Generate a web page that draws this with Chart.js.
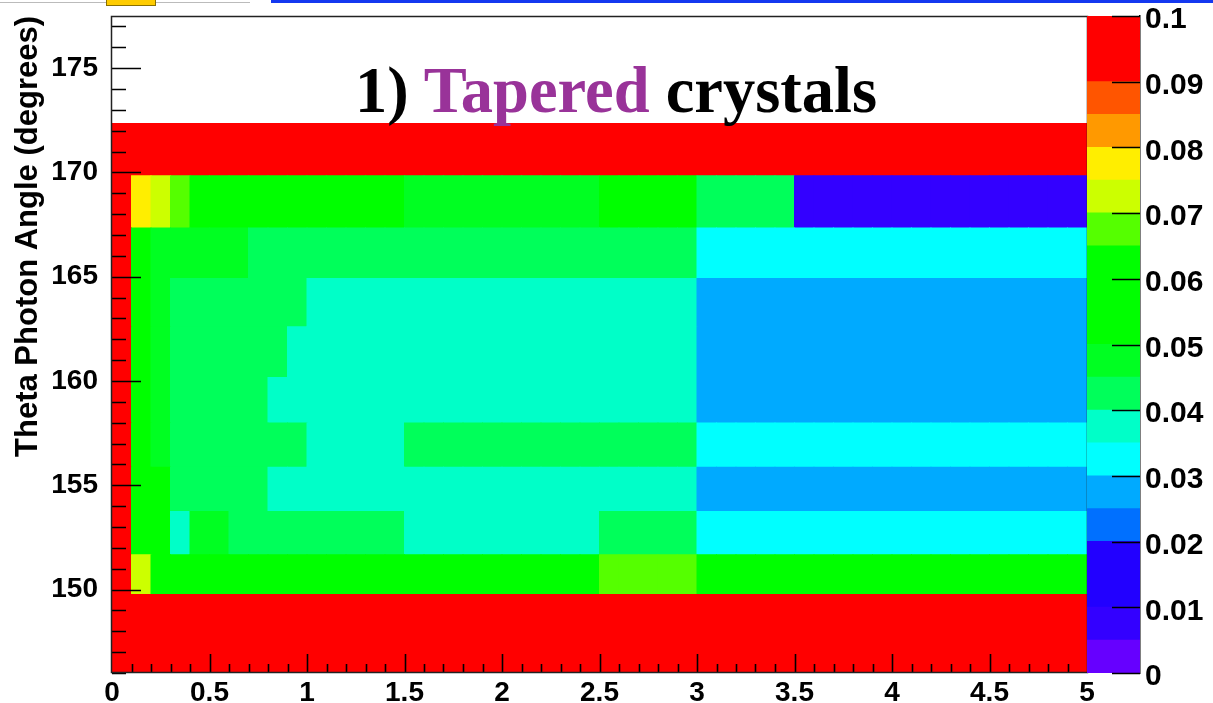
<!DOCTYPE html>
<html><head><meta charset="utf-8">
<script src="https://cdn.jsdelivr.net/npm/chart.js@4.4.0/dist/chart.umd.min.js"></script>
<style>
html,body{margin:0;padding:0;background:#fff;}
#wrap{position:relative;width:1213px;height:703px;overflow:hidden;background:#fff;}
#main{position:absolute;left:0;top:0;}
#cbar{position:absolute;left:1087px;top:0;}
#title{position:absolute;left:355px;top:59px;font-family:"Liberation Serif","Times New Roman",serif;font-weight:bold;font-size:64.5px;line-height:64px;white-space:nowrap;color:#000;}
#title .p{color:#993399;}
.blue{position:absolute;left:271px;top:0;width:942px;height:3px;background:#1438f0;}
.yel{position:absolute;left:106px;top:-2px;width:48px;height:6px;background:#ffcc00;border:1px solid #8a7000;}
.gray{position:absolute;left:0;top:2px;width:250px;height:1px;background:#bbb;}
</style></head>
<body><div id="wrap">
<canvas id="main" width="1213" height="703"></canvas>
<canvas id="cbar" width="126" height="703"></canvas>
<div class="gray"></div><div class="yel"></div><div class="blue"></div>
<div id="title">1) <span class="p">Tapered</span> crystals</div>
</div>
<script>
// ---- data ----
const xCenters = [0.05,0.15,0.25,0.35,0.45,0.55,0.65,0.75,0.85,0.95,
  1.05,1.15,1.25,1.35,1.45,1.55,1.65,1.75,1.85,1.95,
  2.05,2.15,2.25,2.35,2.45,2.55,2.65,2.75,2.85,2.95,
  3.05,3.15,3.25,3.35,3.45,3.55,3.65,3.75,3.85,3.95,
  4.05,4.15,4.25,4.35,4.45,4.55,4.65,4.75,4.85,4.95];
const yEdges = [146, 149.76, 151.67, 153.74, 155.86, 157.99, 160.17, 162.60, 164.91, 167.34, 169.84, 172.34];
const yTickLabels = [150, 155, 160, 165, 170, 175];
const xTickLabels = [0, 0.5, 1, 1.5, 2, 2.5, 3, 3.5, 4, 4.5, 5];
const zLevels = [0,0.005,0.01,0.015,0.02,0.025,0.03,0.035,0.04,0.045,0.05,0.055,0.06,0.065,0.07,0.075,0.08,0.085,0.09,0.095];
const zTickLabels = [0,0.01,0.02,0.03,0.04,0.05,0.06,0.07,0.08,0.09,0.1];
const palette = ['#6600ff','#3300ff','#2200ff','#2200ff','#0070ff','#00aaff','#00ffff','#00ffc8','#00ff5a','#00ff22',
  '#00ff00','#00ff00','#00ff00','#55ff00','#ccff00','#ffee00','#ff9900','#ff5500','#ff0000','#ff0000'];

const row00 = [0.1,0.1,0.1,0.1,0.1,0.1,0.1,0.1,0.1,0.1, 0.1,0.1,0.1,0.1,0.1,0.1,0.1,0.1,0.1,0.1,
  0.1,0.1,0.1,0.1,0.1,0.1,0.1,0.1,0.1,0.1, 0.1,0.1,0.1,0.1,0.1,0.1,0.1,0.1,0.1,0.1, 0.1,0.1,0.1,0.1,0.1,0.1,0.1,0.1,0.1,0.1];
const row01 = [0.1,0.072,0.057,0.057,0.057,0.057,0.057,0.057,0.057,0.057,
  0.057,0.057,0.057,0.057,0.057,0.057,0.057,0.057,0.057,0.057,
  0.057,0.057,0.057,0.057,0.057,0.067,0.067,0.067,0.067,0.067,
  0.057,0.057,0.057,0.057,0.057,0.057,0.057,0.057,0.057,0.057,
  0.057,0.057,0.057,0.057,0.057,0.057,0.057,0.057,0.057,0.057];
const row02 = [0.1,0.057,0.057,0.038,0.047,0.047,0.042,0.042,0.042,0.042,
  0.042,0.042,0.042,0.042,0.042,0.038,0.038,0.038,0.038,0.038,
  0.038,0.038,0.038,0.038,0.038,0.042,0.042,0.042,0.042,0.042,
  0.032,0.032,0.032,0.032,0.032,0.032,0.032,0.032,0.032,0.032,
  0.032,0.032,0.032,0.032,0.032,0.032,0.032,0.032,0.032,0.032];
const row03 = [0.1,0.057,0.057,0.042,0.042,0.042,0.042,0.042,0.038,0.038,
  0.038,0.038,0.038,0.038,0.038,0.038,0.038,0.038,0.038,0.038,
  0.038,0.038,0.038,0.038,0.038,0.038,0.038,0.038,0.038,0.038,
  0.027,0.027,0.027,0.027,0.027,0.027,0.027,0.027,0.027,0.027,
  0.027,0.027,0.027,0.027,0.027,0.027,0.027,0.027,0.027,0.027];
const row04 = [0.1,0.057,0.047,0.042,0.042,0.042,0.042,0.042,0.042,0.042,
  0.038,0.038,0.038,0.038,0.038,0.042,0.042,0.042,0.042,0.042,
  0.042,0.042,0.042,0.042,0.042,0.042,0.042,0.042,0.042,0.042,
  0.032,0.032,0.032,0.032,0.032,0.032,0.032,0.032,0.032,0.032,
  0.032,0.032,0.032,0.032,0.032,0.032,0.032,0.032,0.032,0.032];
const row05 = [0.1,0.057,0.047,0.042,0.042,0.042,0.042,0.042,0.038,0.038,
  0.038,0.038,0.038,0.038,0.038,0.038,0.038,0.038,0.038,0.038,
  0.038,0.038,0.038,0.038,0.038,0.038,0.038,0.038,0.038,0.038,
  0.027,0.027,0.027,0.027,0.027,0.027,0.027,0.027,0.027,0.027,
  0.027,0.027,0.027,0.027,0.027,0.027,0.027,0.027,0.027,0.027];
const row06 = [0.1,0.057,0.047,0.042,0.042,0.042,0.042,0.042,0.042,0.038,
  0.038,0.038,0.038,0.038,0.038,0.038,0.038,0.038,0.038,0.038,
  0.038,0.038,0.038,0.038,0.038,0.038,0.038,0.038,0.038,0.038,
  0.027,0.027,0.027,0.027,0.027,0.027,0.027,0.027,0.027,0.027,
  0.027,0.027,0.027,0.027,0.027,0.027,0.027,0.027,0.027,0.027];
const row07 = [0.1,0.057,0.047,0.042,0.042,0.042,0.042,0.042,0.042,0.042,
  0.038,0.038,0.038,0.038,0.038,0.038,0.038,0.038,0.038,0.038,
  0.038,0.038,0.038,0.038,0.038,0.038,0.038,0.038,0.038,0.038,
  0.027,0.027,0.027,0.027,0.027,0.027,0.027,0.027,0.027,0.027,
  0.027,0.027,0.027,0.027,0.027,0.027,0.027,0.027,0.027,0.027];
const row08 = [0.1,0.057,0.047,0.047,0.047,0.047,0.047,0.042,0.042,0.042,
  0.042,0.042,0.042,0.042,0.042,0.042,0.042,0.042,0.042,0.042,
  0.042,0.042,0.042,0.042,0.042,0.042,0.042,0.042,0.042,0.042,
  0.032,0.032,0.032,0.032,0.032,0.032,0.032,0.032,0.032,0.032,
  0.032,0.032,0.032,0.032,0.032,0.032,0.032,0.032,0.032,0.032];
const row09 = [0.1,0.077,0.072,0.067,0.057,0.057,0.057,0.057,0.057,0.057,
  0.057,0.057,0.057,0.057,0.057,0.047,0.047,0.047,0.047,0.047,
  0.047,0.047,0.047,0.047,0.047,0.057,0.057,0.057,0.057,0.057,
  0.042,0.042,0.042,0.042,0.042,0.008,0.008,0.008,0.008,0.008,
  0.008,0.008,0.008,0.008,0.008,0.008,0.008,0.008,0.008,0.008];
const row10 = [0.1,0.1,0.1,0.1,0.1,0.1,0.1,0.1,0.1,0.1, 0.1,0.1,0.1,0.1,0.1,0.1,0.1,0.1,0.1,0.1,
  0.1,0.1,0.1,0.1,0.1,0.1,0.1,0.1,0.1,0.1, 0.1,0.1,0.1,0.1,0.1,0.1,0.1,0.1,0.1,0.1, 0.1,0.1,0.1,0.1,0.1,0.1,0.1,0.1,0.1,0.1];
const rows = [row00,row01,row02,row03,row04,row05,row06,row07,row08,row09,row10];

// ---- helpers ----
const FONT = '"Liberation Sans", Arial, Helvetica, sans-serif';
function colorFor(v){
  let k = Math.floor(v / 0.005 + 1e-9);
  if (k < 0) k = 0; if (k > palette.length - 1) k = palette.length - 1;
  return palette[k];
}
const fmt = v => String(+(+v).toFixed(3));
function noPad(s){ s.paddingTop = 0; s.paddingBottom = 0; s.paddingLeft = 0; s.paddingRight = 0; }

const datasets = rows.map((vals, r) => ({
  data: xCenters.map(x => ({x: x, y: [yEdges[r], yEdges[r + 1]]})),
  backgroundColor: vals.map(colorFor),
  borderWidth: 0,
  grouped: false,
  barPercentage: 1,
  categoryPercentage: 1,
  inflateAmount: 0.5
}));

const frameTicks = {
  id: 'frameTicks',
  afterDatasetsDraw(chart){
    const {ctx, chartArea: a, scales: {x, y}} = chart;
    ctx.save();
    ctx.strokeStyle = '#000';
    ctx.lineWidth = 1.6;
    ctx.beginPath();
    for (let i = 1; i < 50; i++) {
      const px = Math.round(x.getPixelForValue(i / 10)) + 0.5;
      const len = (i % 5 === 0) ? 19 : 9;
      ctx.moveTo(px, a.bottom); ctx.lineTo(px, a.bottom - len);
    }
    for (let v = Math.ceil(y.min); v <= y.max; v++) {
      const py = Math.round(y.getPixelForValue(v)) + 0.5;
      const len = (v % 5 === 0) ? 29 : 14;
      ctx.moveTo(a.left, py); ctx.lineTo(a.left + len, py);
    }
    ctx.stroke();
    ctx.strokeStyle = '#222';
    ctx.lineWidth = 1.5;
    ctx.strokeRect(Math.round(a.left) - 0.5, Math.round(a.top) + 0.5, Math.round(a.right - a.left) + 1, Math.round(a.bottom - a.top) - 1);
    ctx.restore();
  }
};

new Chart(document.getElementById('main'), {
  type: 'bar',
  data: {datasets: datasets},
  options: {
    responsive: false, animation: false, events: [],
    layout: {padding: {left: 0, top: 16, right: 126, bottom: 0}},
    plugins: {legend: {display: false}, tooltip: {enabled: false}},
    scales: {
      x: {
        type: 'linear', min: 0, max: 5, offset: false,
        afterBuildTicks: s => { s.ticks = xTickLabels.map(v => ({value: v})); },
        ticks: {autoSkip: false, maxRotation: 0, padding: 3, color: '#000', callback: fmt,
          font: {family: FONT, size: 28, weight: 'bold'}},
        grid: {display: false, drawTicks: false},
        border: {display: false},
        afterFit: s => { s.height = 30; noPad(s); }
      },
      y: {
        type: 'linear', min: 146, max: 177.5,
        afterBuildTicks: s => { s.ticks = yTickLabels.map(v => ({value: v})); },
        ticks: {autoSkip: false, padding: 14, color: '#000', callback: fmt,
          font: {family: FONT, size: 28, weight: 'bold'}},
        grid: {display: false, drawTicks: false},
        border: {display: false},
        title: {display: true, text: 'Theta Photon Angle (degrees)', align: 'end', color: '#000',
          font: {family: FONT, size: 31, weight: 'bold', lineHeight: 1.2}, padding: {top: 10, bottom: 0}},
        afterFit: s => { s.width = 112; noPad(s); }
      }
    }
  },
  plugins: [frameTicks]
});

// ---- colour bar ----
const cbarTicks = {
  id: 'cbarTicks',
  afterDatasetsDraw(chart){
    const {ctx, chartArea: a, scales: {y}} = chart;
    ctx.save();
    ctx.strokeStyle = '#000'; ctx.lineWidth = 1.6;
    ctx.beginPath();
    zTickLabels.forEach(v => {
      const py = Math.round(y.getPixelForValue(v)) + 0.5;
      ctx.moveTo(a.right, py); ctx.lineTo(a.right - 28, py);
    });
    ctx.stroke();
    ctx.restore();
  }
};
new Chart(document.getElementById('cbar'), {
  type: 'bar',
  data: {labels: ['z'], datasets: zLevels.map((lo, i) => ({
    data: [[lo, lo + 0.005]], backgroundColor: palette[i], borderWidth: 0,
    grouped: false, barPercentage: 1, categoryPercentage: 1, inflateAmount: 0.5
  }))},
  options: {
    responsive: false, animation: false, events: [],
    layout: {padding: {left: 0, top: 16, right: 0, bottom: 30}},
    plugins: {legend: {display: false}, tooltip: {enabled: false}},
    scales: {
      x: {display: false, afterFit: s => { noPad(s); }},
      y: {
        position: 'right', min: 0, max: 0.1,
        afterBuildTicks: s => { s.ticks = zTickLabels.map(v => ({value: v})); },
        ticks: {autoSkip: false, padding: 5, labelOffset: 4, color: '#000', callback: fmt,
          font: {family: FONT, size: 30, weight: 'bold'}},
        grid: {display: false, drawTicks: false},
        border: {display: true, color: '#000', width: 1.5},
        afterFit: s => { s.width = 73; noPad(s); }
      }
    }
  },
  plugins: [cbarTicks]
});
</script>
</body></html>
